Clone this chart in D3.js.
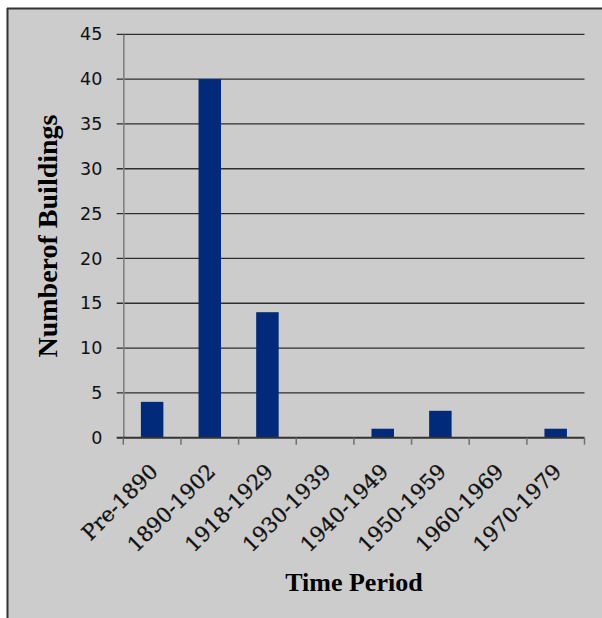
<!DOCTYPE html>
<html>
<head>
<meta charset="utf-8">
<script src="https://cdn.jsdelivr.net/npm/d3@7"></script>
<style>
  html, body { margin: 0; padding: 0; background: #ffffff; }
  svg { display: block; }
</style>
</head>
<body>
<svg id="chart" width="602" height="618"></svg>
<script>
const categories = ["Pre-1890", "1890-1902", "1918-1929", "1930-1939", "1940-1949", "1950-1959", "1960-1969", "1970-1979"];
const buildings = [4, 40, 14, 0, 1, 3, 0, 1];
const yTicks = [0, 5, 10, 15, 20, 25, 30, 35, 40, 45];
const xTitle = "Time Period";
const yTitle = "Numberof Buildings";

const svg = d3.select("#chart");
const W = 602, H = 618;

// frame / background
svg.append("rect").attr("x", 7).attr("y", 8).attr("width", W - 7).attr("height", H - 8).attr("fill", "#cccccc");
svg.append("line").attr("x1", 7.5).attr("x2", 7.5).attr("y1", 8).attr("y2", H).attr("stroke", "#333333").attr("stroke-width", 2);
svg.append("line").attr("x1", 7).attr("x2", W).attr("y1", 8.5).attr("y2", 8.5).attr("stroke", "#333333").attr("stroke-width", 2);

const plot = { left: 123.3, right: 584.5, top: 34.3, bottom: 437.7 };

const x = d3.scaleBand().domain(categories).range([plot.left, plot.right]).paddingInner(0.61).paddingOuter(0.305);
const xc = d3.scaleBand().domain(categories).range([plot.left, plot.right]).padding(0);
const y = d3.scaleLinear().domain([0, 45]).range([plot.bottom, plot.top]);

// gridlines
svg.append("g").selectAll("line").data(yTicks.filter(d => d > 0)).join("line")
  .attr("x1", plot.left - 6.6).attr("x2", plot.right)
  .attr("y1", d => y(d)).attr("y2", d => y(d))
  .attr("stroke", "#2e2e2e").attr("stroke-width", 1.3);

// y axis
const yAxis = d3.axisLeft(y).tickValues(yTicks).tickSize(0).tickPadding(21);
const gy = svg.append("g").attr("transform", `translate(${plot.left},0)`).call(yAxis);
gy.select(".domain").attr("stroke", "#808080").attr("stroke-width", 1.6);
gy.selectAll("text").attr("font-family", "DejaVu Sans, Verdana, sans-serif").attr("font-size", 17.5).attr("fill", "#111");

// bars
svg.append("g").selectAll("rect").data(categories).join("rect")
  .attr("x", d => x(d))
  .attr("width", x.bandwidth())
  .attr("y", (d, i) => y(buildings[i]))
  .attr("height", (d, i) => y(0) - y(buildings[i]))
  .attr("fill", "#012a7a");

// x axis
const xAxis = d3.axisBottom(xc).tickSize(0).tickFormat("");
const gx = svg.append("g").attr("transform", `translate(0,${plot.bottom})`).call(xAxis);
gx.select(".domain").remove();
svg.append("line").attr("x1", plot.left - 6.6).attr("x2", plot.right).attr("y1", plot.bottom).attr("y2", plot.bottom)
  .attr("stroke", "#333333").attr("stroke-width", 2);
const boundaries = categories.map(c => xc(c)).concat([xc(categories[categories.length - 1]) + xc.bandwidth()]);
svg.append("g").selectAll("line").data(boundaries).join("line")
  .attr("x1", d => d).attr("x2", d => d)
  .attr("y1", plot.bottom).attr("y2", plot.bottom + 7)
  .attr("stroke", "#707070").attr("stroke-width", 1.5);

svg.append("g").selectAll("text").data(categories).join("text")
  .attr("transform", d => `translate(${xc(d) + xc.bandwidth() / 2 + 7},${plot.bottom + 35}) rotate(-45)`)
  .attr("text-anchor", "end")
  .attr("font-family", "DejaVu Serif, Georgia, serif")
  .attr("font-size", 21)
  .attr("stroke", "#111").attr("stroke-width", 0.3)
  .attr("fill", "#111")
  .text(d => d);

// titles
svg.append("text")
  .attr("x", (plot.left + plot.right) / 2).attr("y", 591)
  .attr("text-anchor", "middle")
  .attr("font-family", "Liberation Serif, Times New Roman, serif")
  .attr("font-weight", "bold").attr("font-size", 26)
  .attr("fill", "#000")
  .text(xTitle);

svg.append("text")
  .attr("transform", `translate(57,${(plot.top + plot.bottom) / 2}) rotate(-90)`)
  .attr("text-anchor", "middle")
  .attr("font-family", "Liberation Serif, Times New Roman, serif")
  .attr("font-weight", "bold").attr("font-size", 28)
  .attr("fill", "#000")
  .text(yTitle);
</script>
</body>
</html>
